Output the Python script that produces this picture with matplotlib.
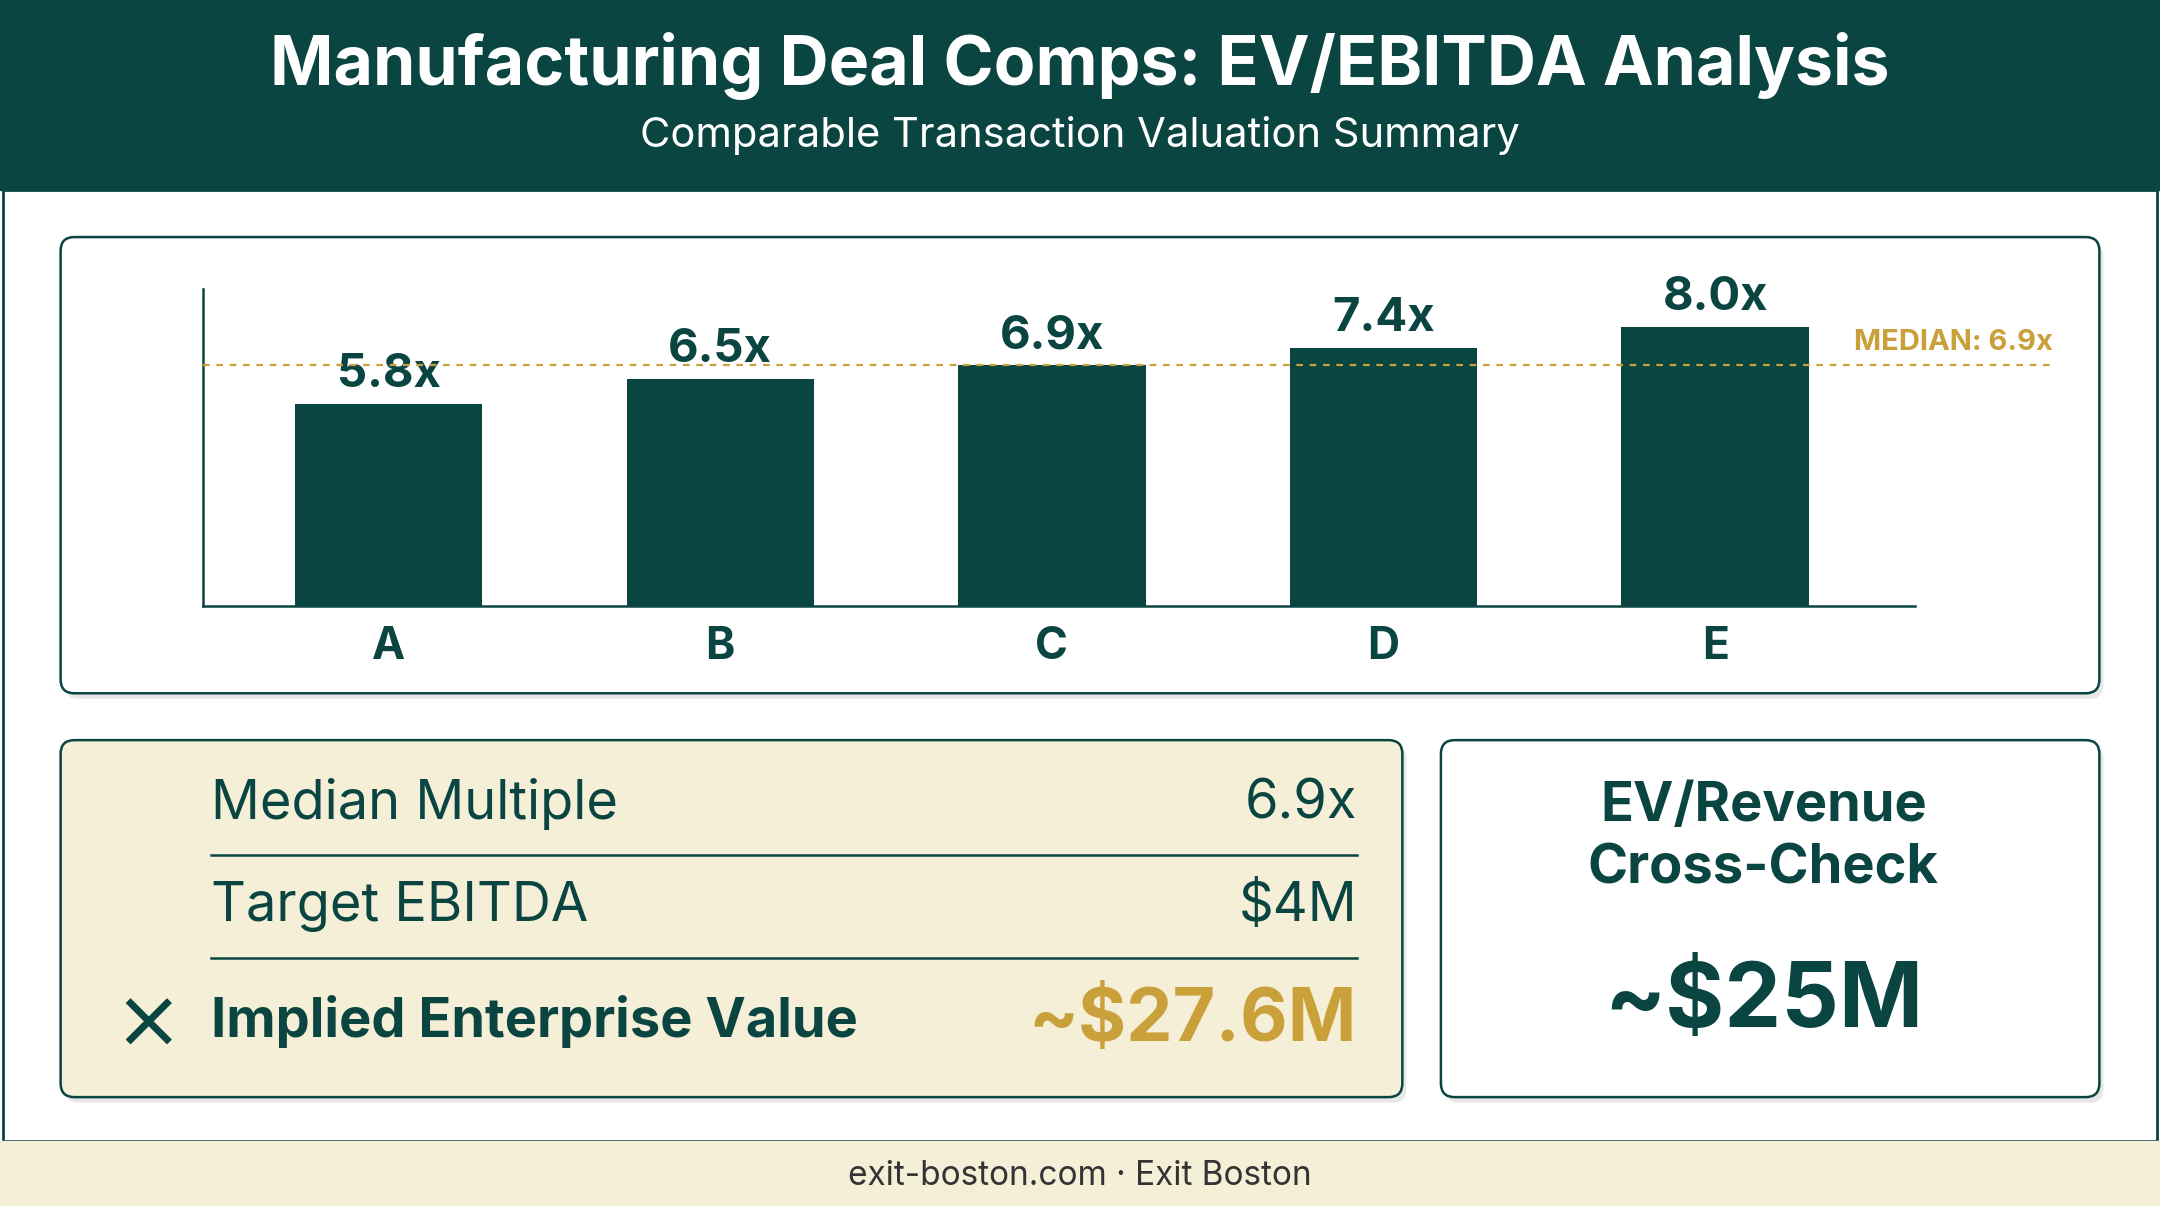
import matplotlib
matplotlib.use("Agg")
import matplotlib.pyplot as plt
from matplotlib.patches import FancyBboxPatch, Rectangle

plt.rcParams["font.family"] = ["Inter", "DejaVu Sans"]

# data
deals = ["A", "B", "C", "D", "E"]
multiples = [5.8, 6.5, 6.9, 7.4, 8.0]
median_multiple = 6.9
target_ebitda = 4  # $M
implied_ev = 27.6  # $M
ev_revenue_check = 25  # $M

DARK = "#0a4542"
GOLD = "#c9a03a"
BEIGE = "#f6efd8"
W, H = 1568, 875

fig = plt.figure(figsize=(21.6, 12.06), dpi=100)
bg = fig.add_axes([0, 0, 1, 1])
bg.set_xlim(0, W)
bg.set_ylim(H, 0)
bg.axis("off")

# header / body / footer
bg.add_patch(Rectangle((0, 0), W, 138, color=DARK))
bg.add_patch(Rectangle((2, 138), W - 4, 690, facecolor="white", edgecolor=DARK, lw=2))
bg.add_patch(Rectangle((0, 828), W, 47, color=BEIGE))
bg.text(W / 2, 48, "Manufacturing Deal Comps: EV/EBITDA Analysis", color="white",
        fontsize=49, fontweight="bold", ha="center", va="center")
bg.text(W / 2, 98, "Comparable Transaction Valuation Summary", color="white",
        fontsize=30, ha="center", va="center")
bg.text(W / 2, 853, "exit-boston.com · Exit Boston", color="#333333",
        fontsize=24, ha="center", va="center")


def panel(x0, y0, x1, y1, fc):
    # soft shadow then box
    bg.add_patch(FancyBboxPatch((x0 + 3, y0 + 4), x1 - x0, y1 - y0,
                                boxstyle="round,pad=0,rounding_size=10",
                                facecolor="#00000018", edgecolor="none"))
    bg.add_patch(FancyBboxPatch((x0, y0), x1 - x0, y1 - y0,
                                boxstyle="round,pad=0,rounding_size=10",
                                facecolor=fc, edgecolor=DARK, lw=1.8))


panel(44, 172, 1524, 503, "white")
panel(44, 537, 1018, 796, BEIGE)
panel(1046, 537, 1524, 796, "white")

# bar chart
ax = fig.add_axes([147 / W, 1 - 440 / H, (1390 - 147) / W, (440 - 210) / H])
ax.patch.set_alpha(0)
x = list(range(len(deals)))
ax.bar(x, multiples, width=0.565, color=DARK, zorder=2)
ax.set_xlim(-0.561, 4.602)
ax.set_ylim(0, 9.06)
for xi, v in zip(x, multiples):
    ax.text(xi, v + 0.2, f"{v:.1f}x", ha="center", va="bottom",
            fontsize=34, fontweight="bold", color=DARK)
ax.plot([-0.561, 5.018], [median_multiple, median_multiple], ls=(0, (3, 3)),
        color=GOLD, lw=1.6, clip_on=False, zorder=3)
ax.text(5.018, median_multiple + 0.25, f"MEDIAN: {median_multiple}x", ha="right",
        va="bottom", fontsize=21, fontweight="bold", color=GOLD)
ax.set_xticks(x)
ax.set_xticklabels(deals, fontsize=32, fontweight="bold", color=DARK)
ax.tick_params(axis="x", length=0, pad=14)
ax.set_yticks([])
for s in ["top", "right"]:
    ax.spines[s].set_visible(False)
for s in ["left", "bottom"]:
    ax.spines[s].set_color(DARK)
    ax.spines[s].set_linewidth(1.8)

# calculation box
rows = [("Median Multiple", f"{median_multiple}x"), ("Target EBITDA", f"${target_ebitda}M")]
for i, (lab, val) in enumerate(rows):
    y = 583 + 75 * i
    bg.text(153, y, lab, fontsize=39, color=DARK, va="center")
    bg.text(985, y, val, fontsize=39, color=DARK, va="center", ha="right")
    bg.plot([153, 985], [y + 37, y + 37], color=DARK, lw=1.8)
# multiply sign drawn as two strokes
bg.plot([93, 123], [726, 756], color=DARK, lw=5, solid_capstyle="butt")
bg.plot([93, 123], [756, 726], color=DARK, lw=5, solid_capstyle="butt")
bg.text(153, 741, "Implied Enterprise Value", fontsize=39, fontweight="bold",
        color=DARK, va="center")
bg.text(985, 741, f"~${implied_ev}M", fontsize=53, fontweight="bold",
        color=GOLD, va="center", ha="right")

# cross-check box
bg.text(1280, 608, "EV/Revenue\nCross-Check", fontsize=39, fontweight="bold",
        color=DARK, va="center", ha="center", linespacing=1.3)
bg.text(1280, 728, f"~${ev_revenue_check}M", fontsize=65, fontweight="bold",
        color=DARK, va="center", ha="center")

fig.savefig("out.png", dpi=100)
